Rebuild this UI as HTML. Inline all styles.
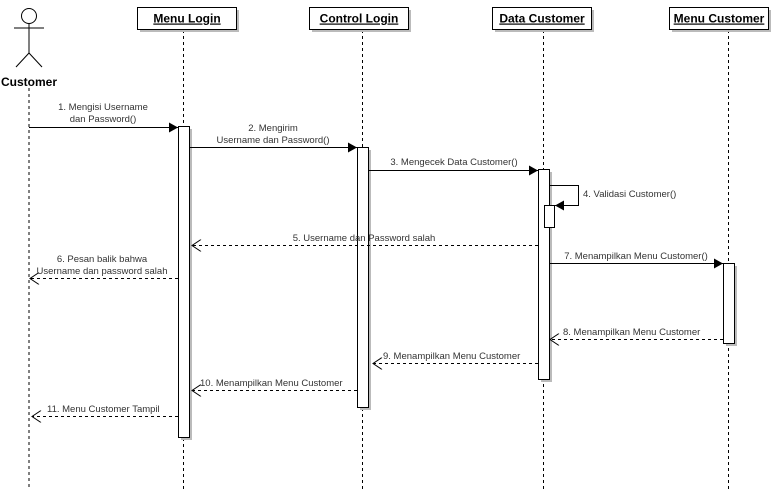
<!DOCTYPE html>
<html><head><meta charset="utf-8"><style>
html,body{margin:0;padding:0;background:#fff;}
svg{display:block;}
text{font-family:"Liberation Sans",Arial,sans-serif;}
.lbl{font-size:9.5px;fill:#333;}
.hd{font-size:12px;font-weight:bold;fill:#000;text-decoration:underline;}
</style></head><body>
<svg width="772" height="489" viewBox="0 0 772 489" xmlns="http://www.w3.org/2000/svg">
<defs>
<marker id="f" markerWidth="10" markerHeight="10" refX="9" refY="5" orient="auto" markerUnits="userSpaceOnUse"><path d="M0,0 L9,5 L0,10 Z" fill="#000"/></marker>
<marker id="o" markerWidth="12" markerHeight="12" refX="10" refY="6" orient="auto" markerUnits="userSpaceOnUse"><path d="M1,0 L10,6 L1,12" fill="none" stroke="#000"/></marker>
</defs>
<g stroke="#000" stroke-dasharray="3,3" stroke-width="1">
<line x1="29" y1="88" x2="29" y2="489"/>
<line x1="183.5" y1="30" x2="183.5" y2="489"/>
<line x1="362.5" y1="30" x2="362.5" y2="489"/>
<line x1="543.5" y1="30" x2="543.5" y2="489"/>
<line x1="728.5" y1="30" x2="728.5" y2="489"/>
</g>
<g fill="#bbb">
<rect x="140" y="10" width="99" height="22"/><rect x="312" y="10" width="99" height="22"/>
<rect x="495" y="10" width="99" height="22"/><rect x="672" y="10" width="99" height="22"/>
</g>
<g fill="#fff" stroke="#000">
<rect x="137.5" y="7.5" width="99" height="22"/><rect x="309.5" y="7.5" width="99" height="22"/>
<rect x="492.5" y="7.5" width="99" height="22"/><rect x="669.5" y="7.5" width="99" height="22"/>
</g>
<text class="hd" x="187" y="22.5" text-anchor="middle">Menu Login</text>
<text class="hd" x="359" y="22.5" text-anchor="middle">Control Login</text>
<text class="hd" x="542" y="22.5" text-anchor="middle">Data Customer</text>
<text class="hd" x="719" y="22.5" text-anchor="middle">Menu Customer</text>
<g stroke="#000" fill="none" stroke-width="1">
<circle cx="29" cy="16" r="7.5" fill="#fff"/>
<line x1="29" y1="23.5" x2="29" y2="53"/>
<line x1="14" y1="28" x2="44" y2="28"/>
<line x1="29" y1="53" x2="16" y2="67"/>
<line x1="29" y1="53" x2="42" y2="67"/>
</g>
<text x="29" y="86" text-anchor="middle" style="font-size:12px;font-weight:bold">Customer</text>
<g fill="#bbb">
<rect x="181" y="129" width="11" height="311"/>
<rect x="360" y="150" width="11" height="260"/>
<rect x="541" y="172" width="11" height="210"/>
<rect x="726" y="266" width="11" height="80"/>
</g>
<g fill="#fff" stroke="#000">
<rect x="178.5" y="126.5" width="11" height="311"/>
<rect x="357.5" y="147.5" width="11" height="260"/>
<rect x="538.5" y="169.5" width="11" height="210"/>
<rect x="544.5" y="205.5" width="10" height="22"/>
<rect x="723.5" y="263.5" width="11" height="80"/>
</g>
<g stroke="#000" fill="none">
<line x1="29" y1="127.5" x2="178" y2="127.5" marker-end="url(#f)"/>
<line x1="190" y1="147.5" x2="357" y2="147.5" marker-end="url(#f)"/>
<line x1="369" y1="170.5" x2="538" y2="170.5" marker-end="url(#f)"/>
<polyline points="550,185.5 578.5,185.5 578.5,205.5 555,205.5" marker-end="url(#f)"/>
<line x1="550" y1="263.5" x2="723" y2="263.5" marker-end="url(#f)"/>
</g>
<g stroke="#000" fill="none" stroke-dasharray="3,3">
<line x1="538" y1="245.5" x2="192" y2="245.5" marker-end="url(#o)"/>
<line x1="178" y1="278.5" x2="30" y2="278.5" marker-end="url(#o)"/>
<line x1="723" y1="339.5" x2="550" y2="339.5" marker-end="url(#o)"/>
<line x1="538" y1="363.5" x2="373" y2="363.5" marker-end="url(#o)"/>
<line x1="357" y1="390.5" x2="192" y2="390.5" marker-end="url(#o)"/>
<line x1="178" y1="416.5" x2="32" y2="416.5" marker-end="url(#o)"/>
</g>
<text class="lbl" x="103" y="110" text-anchor="middle">1. Mengisi Username</text>
<text class="lbl" x="103" y="122" text-anchor="middle">dan Password()</text>
<text class="lbl" x="273" y="131" text-anchor="middle">2. Mengirim</text>
<text class="lbl" x="273" y="143" text-anchor="middle">Username dan Password()</text>
<text class="lbl" x="454" y="165" text-anchor="middle">3. Mengecek Data Customer()</text>
<text class="lbl" x="583" y="197">4. Validasi Customer()</text>
<text class="lbl" x="364" y="241" text-anchor="middle">5. Username dan Password salah</text>
<text class="lbl" x="102" y="262" text-anchor="middle">6. Pesan balik bahwa</text>
<text class="lbl" x="102" y="274" text-anchor="middle">Username dan password salah</text>
<text class="lbl" x="636" y="259" text-anchor="middle">7. Menampilkan Menu Customer()</text>
<text class="lbl" x="563" y="335">8. Menampilkan Menu Customer</text>
<text class="lbl" x="383" y="359">9. Menampilkan Menu Customer</text>
<text class="lbl" x="200" y="386">10. Menampilkan Menu Customer</text>
<text class="lbl" x="47" y="412">11. Menu Customer Tampil</text>
</svg>
</body></html>
